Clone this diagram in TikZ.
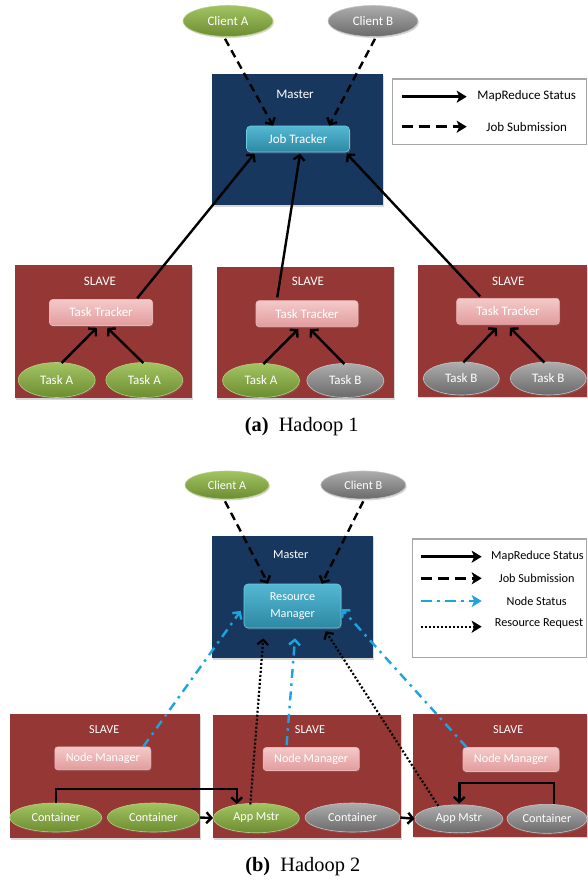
\documentclass[tikz,border=0pt]{standalone}
\usepackage{fontspec}
\setmainfont{Carlito}
\newfontfamily\capfont{Liberation Serif}
\usetikzlibrary{shapes.geometric,arrows.meta,calc,shadows}
\definecolor{masterblue}{HTML}{17375E}
\definecolor{slavered}{HTML}{953735}
\definecolor{nsblue}{HTML}{1FA3DE}
\definecolor{legendgray}{HTML}{A6A6A6}
\definecolor{pinktop}{HTML}{F4C9C9}
\definecolor{pinkbot}{HTML}{E29C9D}
\definecolor{pinkedge}{HTML}{EBB5B5}
\definecolor{tealtop}{HTML}{55B8D3}
\definecolor{tealbot}{HTML}{2D88A3}
\definecolor{tealedge}{HTML}{6FCBE3}
\definecolor{greentop}{HTML}{A3C462}
\definecolor{greenbot}{HTML}{6C8C31}
\definecolor{greenedge}{HTML}{B5D080}
\definecolor{graytop}{HTML}{ADADAD}
\definecolor{graybot}{HTML}{6A6A6A}
\definecolor{grayedge}{HTML}{C4C4C4}
\tikzset{
  fa/.style={font=\fontsize{13}{15}\selectfont},
  fb/.style={font=\fontsize{12.2}{16.6}\selectfont},
  shadowed/.style={drop shadow={opacity=0.3,shadow xshift=1pt,shadow yshift=-1.5pt}},
  masterbox/.style={rectangle, fill=masterblue, inner sep=0pt, shadowed},
  slavebox/.style={rectangle, fill=slavered, inner sep=0pt, shadowed},
  boxlabel/.style={text=white, inner sep=0pt},
  trackerbox/.style={rectangle, rounded corners=3pt, top color=pinktop, bottom color=pinkbot,
    draw=pinkedge, line width=0.6pt, text=white, inner sep=0pt, shadowed},
  jtbox/.style={rectangle, rounded corners=4pt, top color=tealtop, bottom color=tealbot,
    draw=tealedge, line width=0.6pt, text=white, inner sep=0pt, align=center, shadowed},
  greenell/.style={ellipse, top color=greentop, bottom color=greenbot, draw=greenedge,
    line width=0.6pt, text=white, inner sep=0pt, shadowed},
  grayell/.style={ellipse, top color=graytop, bottom color=graybot, draw=grayedge,
    line width=0.6pt, text=white, inner sep=0pt, shadowed},
  legendbox/.style={rectangle, draw=legendgray, line width=1.5pt, fill=white, inner sep=0pt},
  legtext/.style={text=black, inner sep=0pt},
  arr/.style={line width=2.4pt, -{Straight Barb[length=5pt,width=11pt]}},
  dasharr/.style={arr, dash pattern=on 8pt off 5pt},
  dotarr/.style={arr, line width=2.2pt, dash pattern=on 2pt off 2pt},
  nsarr/.style={arr, draw=nsblue, dash pattern=on 9pt off 5.5pt on 2.5pt off 5.5pt},
  legarr/.style={line width=2.5pt, -{Stealth[length=10pt,width=12pt,inset=2.5pt]}},
}
\begin{document}
\begin{tikzpicture}[x=1pt,y=-1pt]
\fill[white] (0,0) rectangle (587,881);
\useasboundingbox (0,0) rectangle (587,881);

% ================= (a) Hadoop 1 =================
\node[masterbox, minimum width=171pt, minimum height=131pt] (ma) at (297.5,139.5) {};
\node[boxlabel, fa] (mal) at (295,94.3) {Master};
\node[jtbox, fa, minimum width=103pt, minimum height=26pt] (jt) at (298,139) {Job Tracker};

\node[greenell, fa, minimum width=90pt, minimum height=31pt] (ca) at (228,21) {Client A};
\node[grayell, fa, minimum width=90pt, minimum height=31pt] (cb) at (373,21) {Client B};

\node[legendbox, minimum width=193.8pt, minimum height=65.3pt] (lga) at (489.6,111.65) {};
\coordinate (la1s) at (401.7,96.7);
\coordinate (la1e) at (466.7,96.7);
\coordinate (la2s) at (401.7,126.7);
\coordinate (la2e) at (466.7,126.7);
\draw[legarr] (la1s) -- (la1e);
\draw[legarr, dash pattern=on 11pt off 6pt] (la2s) -- (la2e);
\node[legtext, fa] (lta1) at (526.7,96.5) {MapReduce Status};
\node[legtext, fa] (lta2) at (526.7,127) {Job Submission};

\node[slavebox, minimum width=177.3pt, minimum height=133.3pt] (sa1) at (103.65,331.65) {};
\node[slavebox, minimum width=177pt, minimum height=131.6pt] (sa2) at (305.8,332.5) {};
\node[slavebox, minimum width=168.2pt, minimum height=131.7pt] (sa3) at (502.4,330.85) {};
\node[boxlabel, fa] (sal1) at (100,281.7) {SLAVE};
\node[boxlabel, fa] (sal2) at (308,281.7) {SLAVE};
\node[boxlabel, fa] (sal3) at (508.3,281) {SLAVE};

\node[trackerbox, fa, minimum width=103pt, minimum height=26pt] (tt1) at (101,312.5) {Task Tracker};
\node[trackerbox, fa, minimum width=102pt, minimum height=26pt] (tt2) at (307,313.7) {Task Tracker};
\node[trackerbox, fa, minimum width=102.6pt, minimum height=26pt] (tt3) at (508,311.3) {Task Tracker};

\node[greenell, fa, minimum width=77pt, minimum height=35pt] (ta1) at (56.7,380) {Task A};
\node[greenell, fa, minimum width=77pt, minimum height=35pt] (ta2) at (144.3,380) {Task A};
\node[greenell, fa, minimum width=77pt, minimum height=34pt] (ta3) at (261,380.5) {Task A};
\node[grayell, fa, minimum width=77pt, minimum height=34pt] (tb1) at (345.3,380.5) {Task B};
\node[grayell, fa, minimum width=76pt, minimum height=33pt] (tb2) at (461.3,378.5) {Task B};
\node[grayell, fa, minimum width=76pt, minimum height=33pt] (tb3) at (548.3,378.5) {Task B};

% client -> job tracker
\draw[dasharr] ($(ca.south)+(-3,2)$) -- ($(jt.north west)!0.26!(jt.north east)$);
\draw[dasharr] ($(cb.south)+(2,2)$) -- ($(jt.north west)!0.80!(jt.north east)$);
% task trackers -> job tracker
\draw[arr] ($(tt1.north west)!0.85!(tt1.north east)+(0,-1)$) -- ($(jt.south west)!0.08!(jt.south east)+(0,1.3)$);
\draw[arr] ($(tt2.north west)!0.21!(tt2.north east)+(0,-3)$) -- ($(jt.south west)!0.52!(jt.south east)+(0,1.3)$);
\draw[arr] ($(tt3.north west)!0.23!(tt3.north east)+(0,-1.6)$) -- ($(jt.south west)!0.97!(jt.south east)+(0,1.3)$);
% tasks -> task trackers
\draw[arr] ($(ta1.north)+(5,0.8)$) -- ($(tt1.south)+(-4.3,2)$);
\draw[arr] ($(ta2.north)+(-1,0.8)$) -- ($(tt1.south)+(6.3,2)$);
\draw[arr] ($(ta3.north)+(2.3,0.8)$) -- ($(tt2.south)+(-8.7,2)$);
\draw[arr] ($(tb1.north)+(-1,0.8)$) -- ($(tt2.south)+(3,2)$);
\draw[arr] ($(tb2.north)+(2,0.8)$) -- ($(tt3.south)+(-11.3,3)$);
\draw[arr] ($(tb3.north)+(-4,0.8)$) -- ($(tt3.south)+(2,3)$);

\node[font=\capfont\fontsize{20.4}{24}\selectfont, anchor=base, inner sep=0pt] (capa) at (301.7,431.5) {\textbf{(a)}\hspace{0.5em}Hadoop 1};

% ================= (b) Hadoop 2 =================
\node[masterbox, minimum width=160.4pt, minimum height=122.6pt] (mb) at (292.5,597) {};
\node[boxlabel, fb] (mbl) at (290.7,554.3) {Master};
\node[jtbox, fb, minimum width=97pt, minimum height=44pt] (rm) at (292.5,606) {Resource\\Manager};

\node[greenell, fb, minimum width=84pt, minimum height=28pt] (cba) at (227,485) {Client A};
\node[grayell, fb, minimum width=85pt, minimum height=28pt] (cbb) at (363.3,485) {Client B};

\node[legendbox, minimum width=173.8pt, minimum height=118.7pt] (lgb) at (499.6,598.35) {};
\coordinate (lb1s) at (420.7,556.7);
\coordinate (lb1e) at (481.7,556.7);
\coordinate (lb2s) at (420.7,578.3);
\coordinate (lb2e) at (481.7,578.3);
\coordinate (lb3s) at (420.7,601);
\coordinate (lb3e) at (481.7,601);
\coordinate (lb4s) at (420.7,626.7);
\coordinate (lb4e) at (481.7,626.7);
\draw[legarr] (lb1s) -- (lb1e);
\draw[legarr, dash pattern=on 11pt off 6pt] (lb2s) -- (lb2e);
\draw[legarr, draw=nsblue, fill=nsblue, dash pattern=on 11pt off 5pt on 3pt off 5pt] (lb3s) -- (lb3e);
\draw[legarr, line width=2.2pt, dash pattern=on 2pt off 2pt] (lb4s) -- (lb4e);
\node[legtext, fb] (ltb1) at (537.5,556.5) {MapReduce Status};
\node[legtext, fb] (ltb2) at (536.7,578.3) {Job Submission};
\node[legtext, fb] (ltb3) at (536.7,601) {Node Status};
\node[legtext, fb] (ltb4) at (539,624) {Resource Request};

\node[slavebox, minimum width=190pt, minimum height=124.3pt] (sb1) at (105,776.15) {};
\node[slavebox, minimum width=188.3pt, minimum height=123.3pt] (sb2) at (306.85,776.65) {};
\node[slavebox, minimum width=173.2pt, minimum height=122.7pt] (sb3) at (499.9,775.35) {};
\node[boxlabel, fb] (sbl1) at (104.3,730) {SLAVE};
\node[boxlabel, fb] (sbl2) at (310,730) {SLAVE};
\node[boxlabel, fb] (sbl3) at (508.3,729.3) {SLAVE};

\node[trackerbox, fb, minimum width=96pt, minimum height=23pt] (nm1) at (102.8,758.3) {Node Manager};
\node[trackerbox, fb, minimum width=96pt, minimum height=23pt] (nm2) at (311.2,759) {Node Manager};
\node[trackerbox, fb, minimum width=96pt, minimum height=24pt] (nm3) at (511,759.5) {Node Manager};

\node[greenell, fb, minimum width=92pt, minimum height=29pt] (c1) at (55.8,817.5) {Container};
\node[greenell, fb, minimum width=92pt, minimum height=29pt] (c2) at (153.3,817.5) {Container};
\node[greenell, fb, minimum width=86pt, minimum height=29.5pt] (am1) at (256.3,818) {App Mstr};
\node[grayell, fb, minimum width=95pt, minimum height=29pt] (cs2) at (352.5,817.5) {Container};
\node[grayell, fb, minimum width=88pt, minimum height=28pt] (am2) at (458.8,818.8) {App Mstr};
\node[grayell, fb, minimum width=80pt, minimum height=29pt] (c3) at (547,818.8) {Container};

% clients -> resource manager
\draw[dasharr] ($(cba.south)+(-2,2)$) -- ($(rm.north west)!0.25!(rm.north east)$);
\draw[dasharr] ($(cbb.south)+(0,2)$) -- ($(rm.north west)!0.80!(rm.north east)$);
% node status
\draw[nsarr] ($(nm1.north west)!0.92!(nm1.north east)$) -- ($(rm.north west)!0.61!(rm.south west)+(-3,0)$);
\draw[nsarr] ($(nm2.north west)!0.245!(nm2.north east)+(0,-2)$) -- ($(rm.south)+(2.5,10)$);
\draw[nsarr] ($(nm3.north west)!0.04!(nm3.north east)$) -- ($(rm.north east)!0.57!(rm.south east)+(0.5,0)$);
% resource requests
\draw[dotarr] ($(am1.north)+(-6,1.5)$) -- ($(rm.south)+(-29.2,10)$);
\draw[dotarr] ($(am2.north)+(-20.5,1.5)$) -- ($(rm.south east)!0.16!(rm.south west)+(0,3)$);
% container -> app master
\draw[arr] (c1.north) -- ++(0,-14) -| ($(am1.north)+(-19.6,1)$);
\draw[arr] (c2.east) -- (am1.west);
\draw[arr] (cs2.east) -- (am2.west);
\draw[arr] ($(c3.north)+(7,0)$) -- ++(0,-21) -| ($(am2.north)+(0.5,-1)$);

\node[font=\capfont\fontsize{20.4}{24}\selectfont, anchor=base, inner sep=0pt] (capb) at (302.8,871.7) {\textbf{(b)}\hspace{0.5em}Hadoop 2};
\end{tikzpicture}
\end{document}
